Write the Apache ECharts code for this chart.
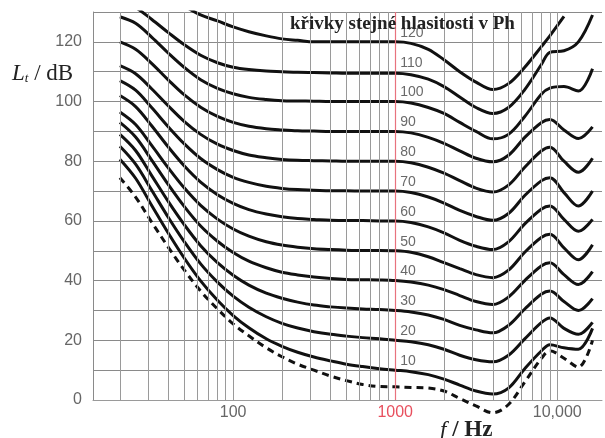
<!DOCTYPE html>
<html>
<head>
    <meta charset="UTF-8">
    <title>Křivky stejné hlasitosti</title>
    <script src="https://cdn.jsdelivr.net/npm/echarts@6/dist/echarts.min.js"></script>
    <style>
        html, body { margin: 0; padding: 0; background: #fff; }
        #chart { width: 605px; height: 438px; }
    </style>
</head>
<body>
    <div id="chart"></div>

    <script>
        // frekvence v Hz (spolecne pro vsechny krivky)
        var freq = [20, 25, 31.5, 40, 50, 63, 80, 100, 125, 160,
                    200, 250, 315, 400, 500, 630, 800, 1000, 1250, 1600,
                    2000, 2500, 3150, 4000, 5000, 6300, 8000, 9000, 11000, 13500,
                    16500];

        // prah slyseni (carkovane)
        var thr  = [74.5, 68, 59.5, 51, 43.5, 36.5, 30.5, 25.5, 21.5, 17.5,
                    14.5, 12, 10, 8, 6.5, 5.2, 4.5, 4.4, 4.2, 4,
                    3, 0.5, -2, -4.3, -1.5, 6, 14, 16.5, 14, 11,
                    20];
        var p10  = [80.7, 74.3, 65.1, 55.7, 47.5, 39.9, 33.4, 28.3, 24.2, 20.5,
                    18, 16, 14.4, 13.1, 12, 11.2, 10.5, 10, 9.5, 8.5,
                    7, 5, 3, 2, 4, 10.5, 16.5, 18.5, 17.5, 17,
                    24];
        var p20  = [85, 79, 70.2, 61, 53, 45.6, 39.5, 34.8, 31.1, 27.9,
                    25.7, 24.1, 22.9, 22, 21.4, 20.9, 20.5, 20, 19.5, 18.5,
                    17, 15, 13.5, 12.8, 15, 20.5, 26, 27.5, 24, 22,
                    26];
        var p30  = [89, 83.6, 75.1, 66.3, 58.7, 51.7, 46, 41.8, 38.5, 35.8,
                    34.1, 32.8, 31.8, 31.2, 30.8, 30.5, 30.3, 30, 29.5, 28.5,
                    27, 25, 23.5, 22.5, 25, 30.5, 35.5, 36.5, 33, 30,
                    34];
        var p40  = [93, 88.1, 80.3, 72, 64.8, 58.3, 53.2, 49.4, 46.5, 44.3,
                    42.8, 41.9, 41.2, 40.7, 40.4, 40.3, 40.2, 40, 39.5, 38.5,
                    37, 35, 33, 32, 34.5, 40, 45, 46, 42, 38.7,
                    43];
        var p50  = [96.5, 92.3, 85.2, 77.6, 71, 65.2, 60.6, 57.3, 54.9, 53,
                    51.9, 51.2, 50.7, 50.4, 50.2, 50.1, 50.1, 50, 49.5, 48,
                    46, 44, 42, 41, 43.5, 49.5, 54.5, 55.5, 51, 47,
                    52];
        var p60  = [102, 98.3, 91.8, 84.6, 78.4, 73, 68.8, 65.9, 63.8, 62.3,
                    61.4, 60.8, 60.5, 60.2, 60.1, 60.1, 60, 60, 59.5, 58,
                    56, 53.5, 51.5, 50.4, 53, 59, 64, 65, 60.5, 56.5,
                    60.5];
        var p70  = [107, 103.8, 97.9, 91.4, 85.8, 80.9, 77.2, 74.6, 72.9, 71.6,
                    70.9, 70.5, 70.3, 70.1, 70.1, 70, 70, 70, 69.5, 68,
                    66, 63.5, 61.5, 60.2, 62.5, 68.5, 73.5, 74.5, 69.5, 65,
                    70];
        var p80  = [112, 109.3, 104.2, 98.4, 93.3, 89, 85.7, 83.6, 82.1, 81.2,
                    80.6, 80.3, 80.2, 80.1, 80, 80, 80, 80, 79.5, 78,
                    76, 73.5, 71, 69.7, 72, 78, 83.5, 84.7, 80, 76.3,
                    81];
        var p90  = [120, 117.5, 112.7, 107.1, 102.2, 98.1, 95, 93, 91.7, 90.9,
                    90.5, 90.2, 90.1, 90, 90, 90, 90, 90, 89.5, 88,
                    86, 83.5, 81, 79.8, 82, 88, 93, 94, 90.5, 87.6,
                    91.5];
        var p100 = [128.4, 126.2, 121.5, 116.1, 111.4, 107.3, 104.4, 102.6, 101.4, 100.7,
                    100.3, 100.2, 100.1, 100, 100, 100, 100, 100, 99.5, 98,
                    96, 93, 90, 87.5, 89, 95, 102.5, 104.5, 105, 103.5,
                    111];
        var p110 = [134, 131.5, 127.5, 123, 119, 115.5, 113, 111.5, 110.7, 110.2,
                    110, 109.8, 109.7, 109.6, 109.5, 109.5, 109.5, 109.5, 109, 107.5,
                    105, 101.5, 98, 96, 98, 104, 112.5, 116.5, 117, 120,
                    129];
        var p120 = [150, 145, 140, 135.5, 132, 129, 127, 125, 123.4, 122,
                    121, 120.5, 120, 120, 120, 120, 120, 120, 119.5, 117.5,
                    114, 110, 106.5, 104, 106, 111.5, 118.5, 122, 128.5, null,
                    null];

        var phonLevels = [10, 20, 30, 40, 50, 60, 70, 80, 90, 100, 110, 120];
        var curves = [p10, p20, p30, p40, p50, p60, p70, p80, p90, p100, p110, p120];

        // svisle cary mrizky
        var gridFreq = [20, 30, 40, 50, 60, 70, 80, 90, 100,
                        200, 300, 400, 500, 600, 700, 800, 900,
                        2000, 3000, 4000, 5000, 6000, 7000, 8000, 9000, 10000];
        var tickLabels = { 100: '100', 1000: '{r|1000}', 10000: '10,000' };

        function pairs(arr) {
            return freq.map(function (f, i) { return [f, arr[i]]; });
        }

        var series = [];

        series.push({
            name: 'mrizka',
            type: 'line',
            data: [[1000, 0]],
            showSymbol: false,
            lineStyle: { opacity: 0 },
            z: 1,
            silent: true,
            markLine: {
                silent: true,
                symbol: ['none', 'none'],
                label: { show: false },
                animation: false,
                data: gridFreq.map(function (f) {
                    return { xAxis: f, lineStyle: { color: '#9a9a9a', width: 1, type: 'solid' } };
                }).concat([{ xAxis: 1000, lineStyle: { color: '#e8727e', width: 1.2, type: 'solid' } }])
            }
        });

        curves.forEach(function (c, i) {
            series.push({
                name: phonLevels[i] + ' Ph',
                type: 'line',
                data: pairs(c),
                smooth: 0.35,
                showSymbol: false,
                clip: true,
                z: 3,
                lineStyle: { color: '#111', width: 3 }
            });
        });

        series.push({
            name: 'prah',
            type: 'line',
            data: pairs(thr),
            smooth: 0.35,
            showSymbol: false,
            clip: false,
            z: 3,
            lineStyle: { color: '#111', width: 3, type: [7, 5] }
        });

        series.push({
            name: 'popisky',
            type: 'scatter',
            symbolSize: 0,
            z: 4,
            data: phonLevels.map(function (p) { return [1000, p]; }),
            label: {
                show: true,
                position: [5, -16],
                fontFamily: 'Arial',
                fontSize: 14,
                color: '#444',
                formatter: function (p) { return p.value[1]; }
            }
        });

        var chart = echarts.init(document.getElementById('chart'), null, { renderer: 'canvas' });
        chart.setOption({
            animation: false,
            backgroundColor: '#fff',
            grid: { left: 93, right: 0, top: 12, bottom: 38 },
            xAxis: {
                type: 'log',
                logBase: 10,
                min: 13.65,
                max: 18880,
                axisLine: { show: true, lineStyle: { color: '#9a9a9a', width: 1 } },
                axisTick: { show: false },
                splitLine: { show: false },
                axisLabel: {
                    margin: 5,
                    fontFamily: 'Arial',
                    fontSize: 16,
                    color: '#666',
                    formatter: function (v) {
                        var k = Math.round(v);
                        return tickLabels[k] || '';
                    },
                    rich: { r: { fontFamily: 'Arial', fontSize: 16, color: '#e8505e' } }
                }
            },
            yAxis: {
                type: 'value',
                min: 0,
                max: 130,
                interval: 10,
                axisLine: { show: true, lineStyle: { color: '#8a8a8a', width: 1 } },
                axisTick: { show: false },
                splitLine: { show: true, lineStyle: { color: '#8a8a8a', width: 1 } },
                axisLabel: {
                    margin: 11,
                    fontFamily: 'Arial',
                    fontSize: 16,
                    color: '#666',
                    formatter: function (v) { return v % 20 === 0 ? v : ''; }
                }
            },
            graphic: [
                {
                    type: 'text', left: 290, top: 15, z: 10,
                    style: {
                        text: 'křivky stejné hlasitosti v Ph',
                        font: 'bold 19px "Liberation Serif"',
                        fill: '#222'
                    }
                },
                {
                    type: 'text', left: 12, top: 62, z: 10,
                    style: {
                        text: '{i|L}{s|t}{n| / dB}',
                        rich: {
                            i: { font: 'italic 23px "Liberation Serif"', fill: '#222' },
                            s: { font: 'italic 13px "Liberation Serif"', fill: '#222', padding: [11, 0, 0, 0] },
                            n: { font: '23px "Liberation Serif"', fill: '#222' }
                        }
                    }
                },
                {
                    type: 'text', left: 440, top: 419, z: 10,
                    style: {
                        text: '{i|f}{n| / Hz}',
                        rich: {
                            i: { font: 'italic 23px "Liberation Serif"', fill: '#222' },
                            n: { font: 'bold 23px "Liberation Serif"', fill: '#222' }
                        }
                    }
                }
            ],
            series: series
        });
    </script>
</body>
</html>
